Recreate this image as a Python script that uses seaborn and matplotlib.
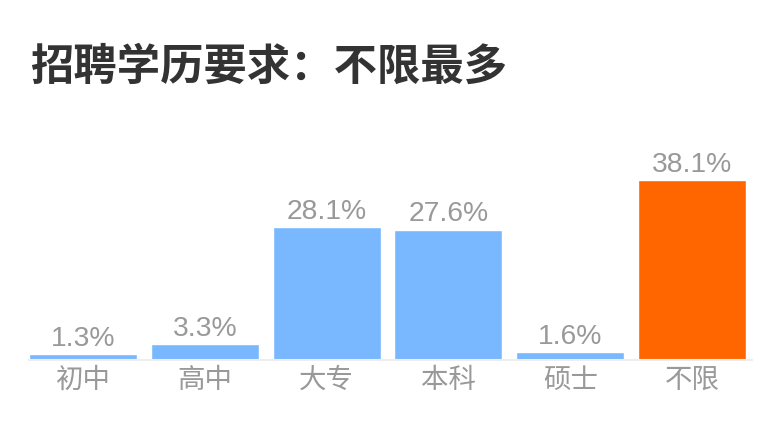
import matplotlib
matplotlib.use("Agg")
import matplotlib.pyplot as plt
import seaborn as sns
import pandas as pd

categories = ["初中", "高中", "大专", "本科", "硕士", "不限"]
values = [1.3, 3.3, 28.1, 27.6, 1.6, 38.1]
labels = ["1.3%", "3.3%", "28.1%", "27.6%", "1.6%", "38.1%"]
colors = ["#79b7fe", "#79b7fe", "#79b7fe", "#79b7fe", "#79b7fe", "#ff6600"]
title = "招聘学历要求：不限最多"

sns.set_theme(style="white")
plt.rcParams['font.family'] = ['Noto Sans CJK SC', 'DejaVu Sans']

W, H = 775, 426
fig = plt.figure(figsize=(W / 100, H / 100), dpi=100)
ax_left, ax_right = 29, 752
ax_bottom, ax_top = 360, 130
ax = fig.add_axes([ax_left / W, 1 - ax_bottom / H, (ax_right - ax_left) / W, (ax_bottom - ax_top) / H])

df = pd.DataFrame({"cat": categories, "val": values})
sns.barplot(data=df, x="cat", y="val", hue="cat", palette=colors, legend=False,
            width=108 / 122, saturation=1, ax=ax)

ax.set_xlim(-54 / 122, 5 + 60 / 122)
ax.set_ylim(0, (ax_bottom - ax_top) / 4.72)

for i, (v, lab) in enumerate(zip(values, labels)):
    ax.annotate(lab, (i, v), xytext=(0, 6.0), textcoords="offset points",
                ha="center", va="baseline", fontsize=20.3, color="#999999",
                family=['Liberation Sans', 'Noto Sans CJK SC'])

for s in ["top", "right", "left"]:
    ax.spines[s].set_visible(False)
ax.spines["bottom"].set_color("#eeeeee")
ax.spines["bottom"].set_linewidth(1.5)
ax.set_yticks([])
ax.set_xlabel("")
ax.set_ylabel("")
ax.tick_params(axis="x", length=0, pad=5, labelsize=19.8, labelcolor="#999999")

fig.text(30 / W, 1 - 67 / H, title, fontsize=31.2, fontweight="bold", color="#333333",
         ha="left", va="center")

fig.savefig("out.png", dpi=100, facecolor="white")
